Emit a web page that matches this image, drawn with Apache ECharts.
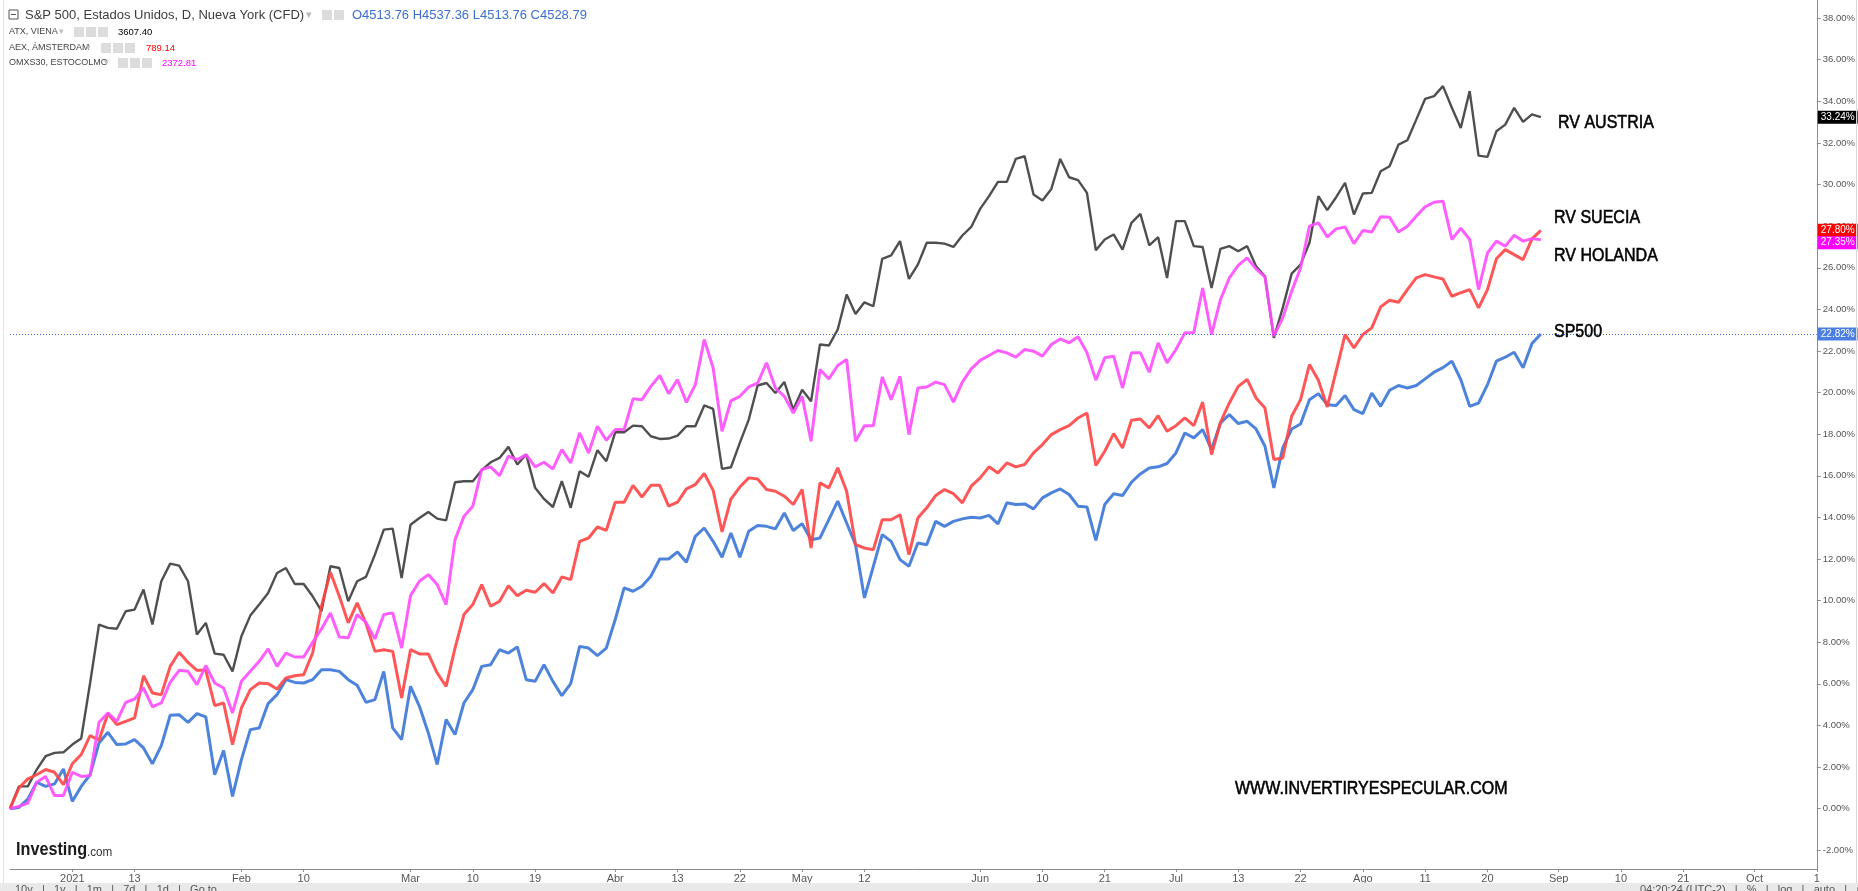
<!DOCTYPE html>
<html><head><meta charset="utf-8">
<script src="https://cdn.jsdelivr.net/npm/echarts@6/dist/echarts.min.js"></script>
<style>html,body{margin:0;padding:0;background:#fff}#c{width:1858px;height:891px}</style>
</head><body><div id="c"></div>
<script>
// % change since 22-Dec-2020, one value per trading day
const atx = [0,1.07,1.07,1.88,2.52,2.68,2.71,3.08,3.37,6.04,8.85,8.69,8.65,9.49,9.57,10.53,8.85,10.93,11.78,11.68,10.93,8.37,8.93,7.45,7.40,6.60,8.29,9.28,9.81,10.37,11.33,11.57,10.80,10.80,10.21,9.49,11.65,11.57,9.97,10.93,11.14,12.21,13.41,13.46,11.09,13.65,13.97,14.26,13.94,13.86,15.69,15.74,15.74,16.27,16.65,16.86,17.39,16.54,17.02,15.42,14.89,14.50,15.74,14.46,16.22,15.95,17.23,16.70,18.09,18.09,18.41,18.38,17.90,17.77,17.79,17.93,18.38,18.38,19.38,19.22,16.33,16.41,17.58,18.70,20.34,20.46,19.98,20.51,19.18,20.14,19.58,22.31,22.26,23.03,24.71,23.78,24.34,24.15,26.43,26.59,27.28,25.46,26.15,27.20,27.20,27.16,27.00,27.55,27.96,28.83,29.44,30.13,30.13,31.23,31.36,29.52,29.23,29.79,31.23,30.35,30.21,29.60,26.84,27.36,27.60,26.87,28.16,28.59,27.08,27.47,25.51,28.24,28.24,27.04,27.00,25.03,26.91,27.04,26.79,27.04,26.07,25.59,22.63,24.07,25.72,26.15,27.20,29.44,28.77,29.39,30.08,28.56,29.57,29.60,30.64,30.88,31.92,32.13,33.12,34.12,34.25,34.73,33.69,32.72,34.49,31.39,31.33,32.56,32.88,33.69,33.01,33.37,33.24];
const aex = [0,0.99,1.43,1.63,1.88,1.75,1.15,2.16,2.60,3.51,3.29,4.57,4.04,4.20,4.36,6.39,5.56,5.48,6.84,7.52,7.03,6.65,6.65,4.95,5.08,3.08,4.84,5.72,6.04,6.01,5.75,6.28,6.39,6.44,7.48,9.73,11.36,10.21,8.93,9.89,8.90,7.56,7.64,7.56,5.32,7.64,7.44,7.44,6.52,5.88,7.72,9.33,9.81,10.77,9.73,9.97,10.72,10.24,10.50,10.40,10.82,10.37,11.14,11.01,12.85,13.01,13.54,13.38,14.73,14.73,15.54,14.98,15.54,15.54,14.54,14.73,15.37,15.58,16.11,15.30,13.30,14.88,15.46,15.90,15.85,15.34,15.26,15.02,14.62,15.34,12.53,15.66,15.42,16.38,15.26,12.69,12.53,12.45,13.89,13.89,14.13,12.21,13.97,14.46,15.05,15.34,15.14,14.70,15.50,15.90,16.43,16.14,16.62,16.43,16.54,17.10,17.50,17.98,18.22,18.41,18.78,19.02,16.50,17.18,18.03,17.34,18.67,18.73,18.30,18.89,18.14,18.41,18.78,18.41,19.54,17.02,18.57,19.50,20.30,20.63,19.74,19.26,16.78,16.86,18.86,19.66,21.35,20.59,19.31,21.03,22.79,22.15,22.79,23.11,24.12,24.44,24.34,24.95,25.51,25.67,25.56,25.46,24.63,24.80,24.95,24.07,24.95,26.43,26.87,26.63,26.39,27.39,27.80];
const omx = [0,0.11,0.27,1.27,1.55,0.63,0.63,1.75,1.55,1.59,4.15,4.60,4.20,5.11,5.27,5.80,4.89,5.08,6.07,6.65,6.60,5.96,6.88,6.04,5.80,4.60,6.12,6.60,7.08,7.68,6.84,7.48,7.29,7.29,8.00,8.64,9.41,8.25,8.21,9.33,8.95,8.16,9.33,9.41,7.72,10.24,10.93,11.25,10.77,9.81,12.93,14.05,14.54,16.30,16.43,16.01,16.94,16.78,17.02,16.43,16.65,16.33,17.26,16.62,18.06,17.10,18.38,17.71,18.22,18.22,19.70,19.66,20.30,20.82,19.95,20.62,19.53,20.38,22.55,21.19,18.14,19.60,19.82,20.27,20.46,21.43,20.22,19.82,19.02,19.82,17.66,21.11,20.66,21.30,21.59,17.66,18.41,18.41,20.75,19.66,20.78,17.98,20.22,20.27,20.50,20.38,19.54,20.50,21.14,21.55,21.78,22.02,21.91,21.70,22.07,21.99,21.75,22.31,22.58,22.39,22.68,21.92,20.60,21.67,21.75,20.22,21.91,21.91,20.98,22.39,21.43,22.07,22.87,22.87,25.03,22.79,24.47,25.51,26.11,26.47,25.95,25.56,22.71,23.59,24.87,25.99,28.00,28.16,27.48,27.87,27.96,27.16,27.79,27.72,28.45,28.43,27.72,28.00,28.48,28.93,29.15,29.20,27.36,27.90,27.36,24.95,26.71,27.28,27.04,27.56,27.28,27.40,27.35];
const spx = [0,0.06,0.46,1.27,1.07,1.19,1.91,0.35,1.07,1.63,3.16,3.67,3.08,3.11,3.32,2.92,2.16,3.03,4.49,4.52,4.15,4.57,4.41,1.63,2.80,0.59,2.36,3.80,3.88,5.05,5.48,6.20,6.07,6.04,6.20,6.68,6.68,6.60,6.20,5.93,5.11,5.24,6.60,3.88,3.32,5.88,4.92,3.64,2.12,4.28,3.56,5.08,5.72,6.84,6.92,7.64,7.48,7.77,6.20,6.12,6.92,6.12,5.43,6.01,7.80,7.72,7.36,7.72,9.09,10.61,10.45,10.69,11.17,12.00,12.00,12.34,11.84,13.09,13.49,12.85,12.09,13.25,12.09,13.33,13.61,13.57,13.45,14.21,13.37,13.70,12.93,13.01,13.89,14.78,13.73,12.69,10.13,11.65,13.17,12.85,11.97,11.65,12.77,12.69,13.81,13.57,13.81,13.93,14.01,13.97,14.10,13.69,14.70,14.62,14.65,14.41,14.94,15.18,15.37,15.10,14.54,14.50,12.90,14.62,15.14,15.05,15.69,16.09,16.38,16.43,16.59,17.10,18.06,17.82,18.22,17.26,18.54,18.94,18.51,18.62,18.25,17.42,15.42,17.34,18.25,18.49,19.66,19.95,19.42,19.38,19.86,19.18,18.99,19.98,19.34,20.11,20.34,20.22,20.34,20.66,20.98,21.20,21.51,20.63,19.34,19.50,20.38,21.51,21.70,21.94,21.19,22.36,22.82];

// x axis: bar slots (data + empty future slots up to the price scale) and date tick labels
const totalBars = 204;
const tickIndex  = [7,14,26,33,45,52,59,68,75,82,89,96,109,116,123,131,138,145,152,159,166,174,181,188,196,203];
const tickLabels = ['2021','13','Feb','10','Mar','10','19','Abr','13','22','May','12','Jun','10','21','Jul','13','22','Ago','11','20','Sep','10','21','Oct','1'];

const seriesNames  = ['S&P 500','ATX','AEX','OMXS30'];
const seriesColors = ['#3a76d6','#3c3c3c','#ff4545','#ff4dff'];
const lastBoxColors = ['#4a7ee0','#000000','#ff0000','#ff00ff'];

const cats = [];
for (let i = 0; i < totalBars; i++) cats.push(String(i));
const tickMap = {};
tickIndex.forEach((ix, k) => tickMap[ix] = tickLabels[k]);

const FONT = "Arial, 'Liberation Sans', sans-serif";
const NARROW = "'Liberation Sans Narrow', 'Arial Narrow', Arial, sans-serif";

function lastLine(data, k, lineStyle, offset) {
  const v = data[data.length - 1];
  return {
    symbol: 'none', silent: true, animation: false,
    lineStyle: lineStyle,
    label: {
      show: true, position: 'end', distance: 1, offset: offset,
      formatter: () => v.toFixed(2) + '%',
      backgroundColor: lastBoxColors[k], color: '#fff', opacity: 1,
      fontFamily: FONT, fontSize: 10, padding: [2, 3, 1, 3]
    },
    emphasis: { disabled: true },
    data: [{ yAxis: v }]
  };
}
const hiddenLine = { color: 'rgba(0,0,0,0)', width: 1, type: 'solid', opacity: 1 };

const allData = [spx, atx, aex, omx];
const series = allData.map((d, k) => ({
  name: seriesNames[k], type: 'line', data: d, symbol: 'none', smooth: false,
  animation: false, z: k === 0 ? 2 : 3,
  lineStyle: { color: seriesColors[k], width: k === 1 ? 2.4 : 3, opacity: 0.9 },
  markLine: lastLine(d, k,
    k === 0 ? { color: '#3a6fd8', type: [1, 2], width: 1, opacity: 1 } : hiddenLine,
    k === 3 ? [0, 3] : [0, 0])
}));

const grayIcons = (x0, y0) => [0, 1, 2].map(j => ({
  type: 'rect', z: 100, shape: { x: x0 + j * 12, y: y0, width: 10, height: 10 },
  style: { fill: '#dcdcdc' }
}));
const squeezed = (txt, x, y, size) => ({
  type: 'text', z: 100, x: x, y: y, scaleX: 0.89,
  style: { text: txt, x: 0, y: 0, fill: '#000', stroke: '#000', lineWidth: 0.55,
           font: size + 'px ' + FONT, verticalAlign: 'middle' }
});

const chart = echarts.init(document.getElementById('c'), null, { renderer: 'canvas' });
chart.setOption({
  backgroundColor: '#ffffff',
  animation: false,
  grid: { left: 10, right: 41, top: 0, bottom: 22 },
  xAxis: {
    type: 'category', data: cats, boundaryGap: false,
    axisLine: { onZero: false, lineStyle: { color: '#8c8c8c', width: 1 } },
    axisTick: { show: true, length: 3, interval: (i) => tickMap[i] !== undefined, lineStyle: { color: '#8c8c8c' } },
    axisLabel: {
      interval: (i) => tickMap[i] !== undefined,
      formatter: (val, i) => tickMap[i] || '',
      color: '#555', fontFamily: NARROW, fontSize: 11, margin: 4
    },
    splitLine: { show: false }
  },
  yAxis: {
    type: 'value', position: 'right', min: -2.9, max: 38.87,
    splitNumber: 20, minInterval: 2, maxInterval: 2,
    axisLine: { show: true, lineStyle: { color: '#8c8c8c' } },
    axisTick: { show: true, length: 4, lineStyle: { color: '#8c8c8c' } },
    axisLabel: {
      showMinLabel: false, showMaxLabel: false,
      formatter: (v) => (Math.abs(v / 2 - Math.round(v / 2)) < 1e-6 ? v.toFixed(2) + '%' : ''),
      color: '#555', fontFamily: FONT, fontSize: 9.5, margin: 6
    },
    splitLine: { show: false }
  },
  series: series,
  graphic: [
    { type: 'rect', shape: { x: 0, y: 883, width: 1858, height: 8 }, style: { fill: '#e9e9e9' }, z: 100 },
    { type: 'line', shape: { x1: 3.5, y1: 0, x2: 3.5, y2: 883 }, style: { stroke: '#dfe3ea', lineWidth: 1 }, z: 100 },
    { type: 'line', shape: { x1: 1856.5, y1: 0, x2: 1856.5, y2: 883 }, style: { stroke: '#d8d8d8', lineWidth: 1 }, z: 100 },
    // header
    { type: 'rect', shape: { x: 9, y: 10, width: 9, height: 9 }, style: { fill: 'none', stroke: '#555', lineWidth: 1 }, z: 100 },
    { type: 'line', shape: { x1: 11, y1: 14.5, x2: 16, y2: 14.5 }, style: { stroke: '#555', lineWidth: 1 }, z: 100 },
    { type: 'text', z: 100, style: { text: 'S&P 500, Estados Unidos, D, Nueva York (CFD)', x: 25, y: 15, fill: '#3c3c3c', font: '13px ' + FONT, verticalAlign: 'middle' } },
    { type: 'text', z: 100, style: { text: '▾', x: 306, y: 15, fill: '#b8b8b8', font: '11px ' + FONT, verticalAlign: 'middle' } },
    { type: 'rect', z: 100, shape: { x: 322, y: 10, width: 10, height: 10 }, style: { fill: '#dcdcdc' } },
    { type: 'rect', z: 100, shape: { x: 334, y: 10, width: 10, height: 10 }, style: { fill: '#dcdcdc' } },
    { type: 'text', z: 100, style: { text: 'O4513.76 H4537.36 L4513.76 C4528.79', x: 352, y: 15, fill: '#3b6fd0', font: '13px ' + FONT, verticalAlign: 'middle' } },
    { type: 'text', z: 100, style: { text: 'ATX, VIENA', x: 9, y: 32, fill: '#444', font: '9px ' + FONT, verticalAlign: 'middle' } },
    { type: 'text', z: 100, style: { text: '▾', x: 59, y: 32, fill: '#bbb', font: '9px ' + FONT, verticalAlign: 'middle' } },
    ...grayIcons(74, 27),
    { type: 'text', z: 100, style: { text: '3607.40', x: 118, y: 32, fill: '#000', font: '9.5px ' + FONT, verticalAlign: 'middle' } },
    { type: 'text', z: 100, style: { text: 'AEX, ÁMSTERDAM', x: 9, y: 48, fill: '#444', font: '9px ' + FONT, verticalAlign: 'middle' } },
    { type: 'text', z: 100, style: { text: '▾', x: 86, y: 48, fill: '#bbb', font: '9px ' + FONT, verticalAlign: 'middle' } },
    ...grayIcons(101, 43),
    { type: 'text', z: 100, style: { text: '789.14', x: 146, y: 48, fill: '#ff0000', font: '9.5px ' + FONT, verticalAlign: 'middle' } },
    { type: 'text', z: 100, style: { text: 'OMXS30, ESTOCOLMO', x: 9, y: 63, fill: '#444', font: '9px ' + FONT, verticalAlign: 'middle' } },
    { type: 'text', z: 100, style: { text: '▾', x: 104, y: 63, fill: '#bbb', font: '9px ' + FONT, verticalAlign: 'middle' } },
    ...grayIcons(118, 58),
    { type: 'text', z: 100, style: { text: '2372.81', x: 162, y: 63, fill: '#ff00ff', font: '9.5px ' + FONT, verticalAlign: 'middle' } },
    // annotations
    squeezed('RV AUSTRIA', 1558, 123, 18),
    squeezed('RV SUECIA', 1554, 218, 18),
    squeezed('RV HOLANDA', 1554, 256, 18),
    squeezed('SP500', 1554, 332, 18),
    squeezed('WWW.INVERTIRYESPECULAR.COM', 1235, 789, 18),
    // logo
    { type: 'text', z: 100, x: 16, y: 850, scaleX: 0.9, style: { text: 'Investing', x: 0, y: 0, fill: '#1a1a1a', font: 'bold 18px ' + FONT, verticalAlign: 'middle' } },
    { type: 'text', z: 100, x: 87, y: 852, scaleX: 0.9, style: { text: '.com', x: 0, y: 0, fill: '#333', font: '13px ' + FONT, verticalAlign: 'middle' } },
    // bottom toolbar (mostly cut off)
    { type: 'text', z: 101, style: { text: '10y   |   1y   |   1m   |   7d   |   1d   |   Go to...', x: 15, y: 884, fill: '#555', font: '11px ' + FONT, verticalAlign: 'top' } },
    { type: 'text', z: 101, style: { text: '04:20:24 (UTC-2)   |   %   |   log   |   auto   |   ⚙', x: 1640, y: 884, fill: '#555', font: '11px ' + FONT, verticalAlign: 'top' } }
  ]
});
</script></body></html>
